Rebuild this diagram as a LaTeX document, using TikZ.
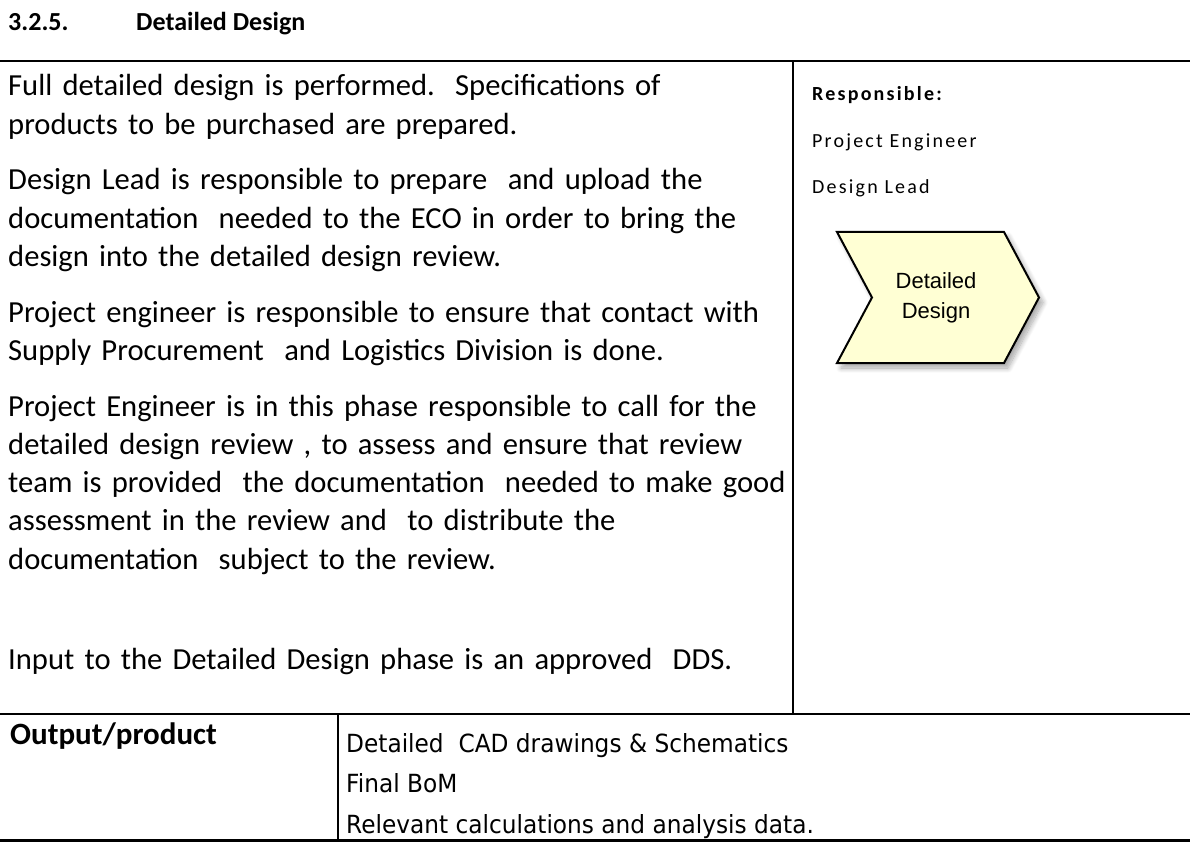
\documentclass[tikz,border=0pt]{standalone}
\usepackage{fontspec}
\setmainfont{Carlito}
\newfontfamily\respfont[LetterSpace=11]{Carlito}
\newfontfamily\chevfont{Liberation Sans}
\newfontfamily\itemfont[FakeStretch=0.93]{DejaVu Sans}
\usetikzlibrary{shadows.blur}
\definecolor{chevfill}{RGB}{255,255,212}
\frenchspacing

\begin{document}
\begin{tikzpicture}[x=1pt, y=-1pt,
        rule/.style={line width=2.2pt},
        title text/.style={anchor=base west, inner sep=0pt, font=\bfseries\fontsize{26}{31}\selectfont},
        body text/.style={anchor=base west, inner sep=0pt, text width=800pt, align=left,
            font=\fontsize{30.6}{38.25}\selectfont},
        resp text/.style={anchor=base west, inner sep=0pt, font=\respfont\fontsize{20}{24}\selectfont},
        item text/.style={anchor=base west, inner sep=0pt, font=\itemfont\fontsize{25}{30}\selectfont},
        chev text/.style={align=center, inner sep=0pt, font=\chevfont\fontsize{22}{30}\selectfont},
        phase/.style={draw=black, line width=2pt, fill=chevfill, line join=miter,
            blur shadow={shadow xshift=4pt, shadow yshift=-5pt, shadow blur radius=5pt,
                shadow blur steps=12, shadow opacity=35}}]
    \useasboundingbox (0,0) rectangle (1190,842);

    % heading
    \node[title text] (num) at (8,31) {3.2.5.};
    \node[title text] (title) at (136,31) {Detailed Design};

    % table lines
    \draw[rule] (0,61) -- (1190,61);
    \draw[rule] (0,714) -- (1190,714);
    \draw[rule] (0,840.5) -- (1190,840.5);
    \draw[line width=2pt] (793,61) -- (793,714);
    \draw[line width=2pt] (338,714) -- (338,840.5);

    % description
    \node[body text] (par1) at (8,96) {Full detailed design is performed.~ Specifications of\\
        products to be purchased are prepared.};
    \node[body text] (par2) at (8,190) {Design Lead is responsible to prepare~ and upload the\\
        documentation~ needed to the ECO in order to bring the\\
        design into the detailed design review.};
    \node[body text] (par3) at (8,322) {Project engineer is responsible to ensure that contact with\\
        Supply Procurement~ and Logistics Division is done.};
    \node[body text] (par4) at (8,416) {Project Engineer is in this phase responsible to call for the\\
        detailed design review , to assess and ensure that review\\
        team is provided~ the documentation~ needed to make good\\
        assessment in the review and~ to distribute the\\
        documentation~ subject to the review.};
    \node[body text] (input) at (8,669) {Input to the Detailed Design phase is an approved~ DDS.};

    % responsible
    \node[resp text] (resp) at (812,101) {\bfseries Responsible:};
    \node[resp text] (pe) at (812,148) {Project Engineer};
    \node[resp text] (dl) at (812,194) {Design Lead};

    % phase chevron
    \path[phase] (837,232) -- (1004,232) -- (1039,297.5) -- (1004,363)
        -- (837,363) -- (872,297.5) -- cycle;
    \node[chev text] (step) at (936,298) {Detailed\\Design};

    % output row
    \node[body text, font=\bfseries\fontsize{31}{38}\selectfont] (out) at (10,744) {Output/product};
    \node[item text] (cad) at (346,752) {Detailed~ CAD drawings \& Schematics};
    \node[item text] (bom) at (346,792) {Final BoM};
    \node[item text] (calc) at (346,833) {Relevant calculations and analysis data.};
\end{tikzpicture}
\end{document}
